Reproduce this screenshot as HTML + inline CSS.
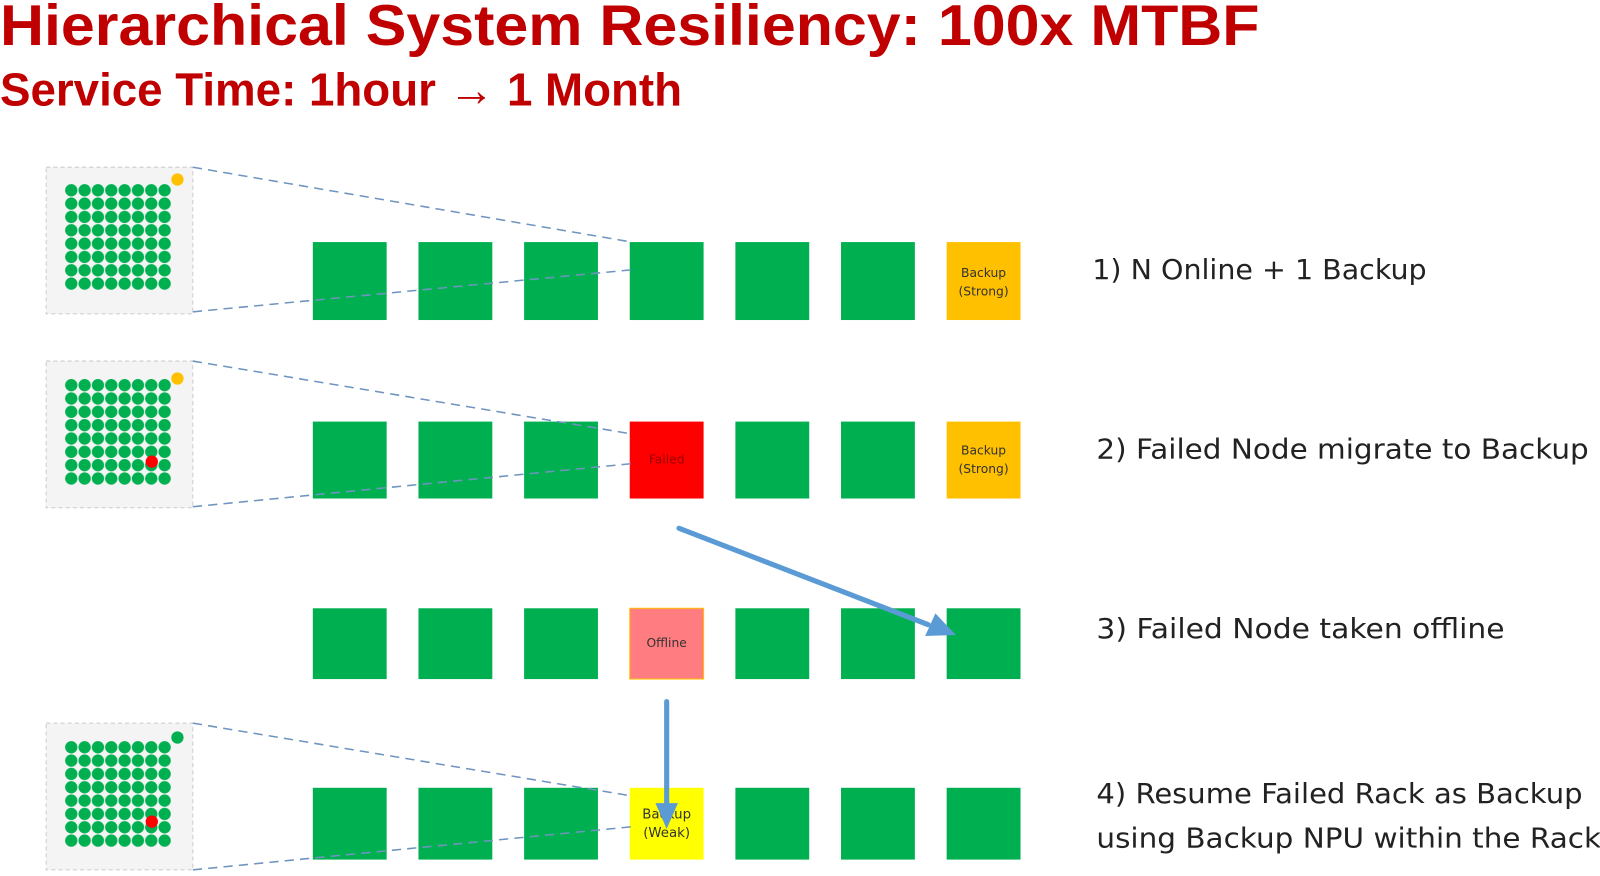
<!DOCTYPE html>
<html><head><meta charset="utf-8"><style>
html,body{margin:0;padding:0;background:#fff;}
svg{display:block;}
</style></head><body>
<svg width="1600" height="876" viewBox="0 0 1560 854" preserveAspectRatio="none" xmlns="http://www.w3.org/2000/svg">
<defs>
<pattern id="dots" x="0" y="0" width="13" height="13" patternUnits="userSpaceOnUse">
<circle cx="6.5" cy="6.5" r="6" fill="#00b050"/>
</pattern>
</defs>
<text x="0" y="44" font-family="Liberation Sans, sans-serif" font-weight="bold" font-size="56" fill="#c00000" textLength="1228" lengthAdjust="spacingAndGlyphs">Hierarchical System Resiliency: 100x MTBF</text>
<text x="0" y="103" font-family="Liberation Sans, sans-serif" font-weight="bold" font-size="45" fill="#c00000" textLength="665" lengthAdjust="spacingAndGlyphs">Service Time: 1hour → 1 Month</text>

<g>
<rect x="45" y="163" width="143" height="143" fill="#f4f4f4" stroke="#ccc" stroke-dasharray="4,3"/>
<g transform="translate(63,179)"><rect width="104" height="104" fill="url(#dots)"/></g>
<circle cx="173" cy="175" r="6" fill="#ffc000"/>
</g>
<g>
<rect x="45" y="352" width="143" height="143" fill="#f4f4f4" stroke="#ccc" stroke-dasharray="4,3"/>
<g transform="translate(63,369)"><rect width="104" height="104" fill="url(#dots)"/></g>
<circle cx="173" cy="369" r="6" fill="#ffc000"/>
<circle cx="148" cy="450" r="6" fill="#ff0000"/>
</g>
<g>
<rect x="45" y="705" width="143" height="143" fill="#f4f4f4" stroke="#ccc" stroke-dasharray="4,3"/>
<g transform="translate(63,722)"><rect width="104" height="104" fill="url(#dots)"/></g>
<circle cx="173" cy="719" r="6" fill="#00b050"/>
<circle cx="148" cy="801" r="6" fill="#ff0000"/>
</g>

<g fill="#00b050">
<rect x="305" y="236" width="72" height="76"/><rect x="408" y="236" width="72" height="76"/><rect x="511" y="236" width="72" height="76"/><rect x="614" y="236" width="72" height="76"/><rect x="717" y="236" width="72" height="76"/><rect x="820" y="236" width="72" height="76"/>
<rect x="305" y="411" width="72" height="75"/><rect x="408" y="411" width="72" height="75"/><rect x="511" y="411" width="72" height="75"/><rect x="717" y="411" width="72" height="75"/><rect x="820" y="411" width="72" height="75"/>
<rect x="305" y="593" width="72" height="69"/><rect x="408" y="593" width="72" height="69"/><rect x="511" y="593" width="72" height="69"/><rect x="717" y="593" width="72" height="69"/><rect x="820" y="593" width="72" height="69"/><rect x="923" y="593" width="72" height="69"/>
<rect x="305" y="768" width="72" height="70"/><rect x="408" y="768" width="72" height="70"/><rect x="511" y="768" width="72" height="70"/><rect x="717" y="768" width="72" height="70"/><rect x="820" y="768" width="72" height="70"/><rect x="923" y="768" width="72" height="70"/>
</g>
<rect x="923" y="236" width="72" height="76" fill="#ffc000"/>
<rect x="923" y="411" width="72" height="75" fill="#ffc000"/>
<rect x="614" y="411" width="72" height="75" fill="#ff0000"/>
<rect x="614" y="593" width="72" height="69" fill="#ff7c80" stroke="#ffc000" stroke-width="1"/>
<rect x="614" y="768" width="72" height="70" fill="#ffff00"/>

<g font-family="DejaVu Sans, Liberation Sans, sans-serif" font-size="12" fill="#333" text-anchor="middle">
<text x="959" y="270">Backup</text><text x="959" y="288">(Strong)</text>
<text x="959" y="443">Backup</text><text x="959" y="461">(Strong)</text>
<text x="650" y="452" fill="#900">Failed</text>
<text x="650" y="631">Offline</text>
<text x="650" y="798" font-size="13">Backup</text><text x="650" y="816" font-size="13">(Weak)</text>
</g>

<g stroke="#6f94c0" stroke-width="1.5" stroke-dasharray="9,6" fill="none">
<line x1="188" y1="163" x2="616" y2="236"/><line x1="188" y1="304" x2="616" y2="263"/>
<line x1="188" y1="352" x2="616" y2="423"/><line x1="188" y1="494" x2="616" y2="452"/>
<line x1="188" y1="705" x2="616" y2="776"/><line x1="188" y1="848" x2="616" y2="806"/>
</g>

<g stroke="#5b9bd5" stroke-width="5" stroke-linecap="round" fill="none">
<line x1="662" y1="515" x2="905" y2="609"/>
<line x1="650" y1="684" x2="650" y2="785"/>
</g>
<path d="M932,619 L902,620 L912,598 z" fill="#5b9bd5"/>
<path d="M650,808 L639,783 L661,783 z" fill="#5b9bd5"/>

<g font-family="DejaVu Sans, Liberation Sans, sans-serif" font-size="27" fill="#222">
<text x="1065" y="272" textLength="326" lengthAdjust="spacingAndGlyphs">1) N Online + 1 Backup</text>
<text x="1069" y="447" textLength="480" lengthAdjust="spacingAndGlyphs">2) Failed Node migrate to Backup</text>
<text x="1069" y="622" textLength="398" lengthAdjust="spacingAndGlyphs">3) Failed Node taken offline</text>
<text x="1069" y="783" textLength="474" lengthAdjust="spacingAndGlyphs">4) Resume Failed Rack as Backup</text>
<text x="1069" y="826" textLength="492" lengthAdjust="spacingAndGlyphs">using Backup NPU within the Rack</text>
</g>
</svg>
</body></html>
